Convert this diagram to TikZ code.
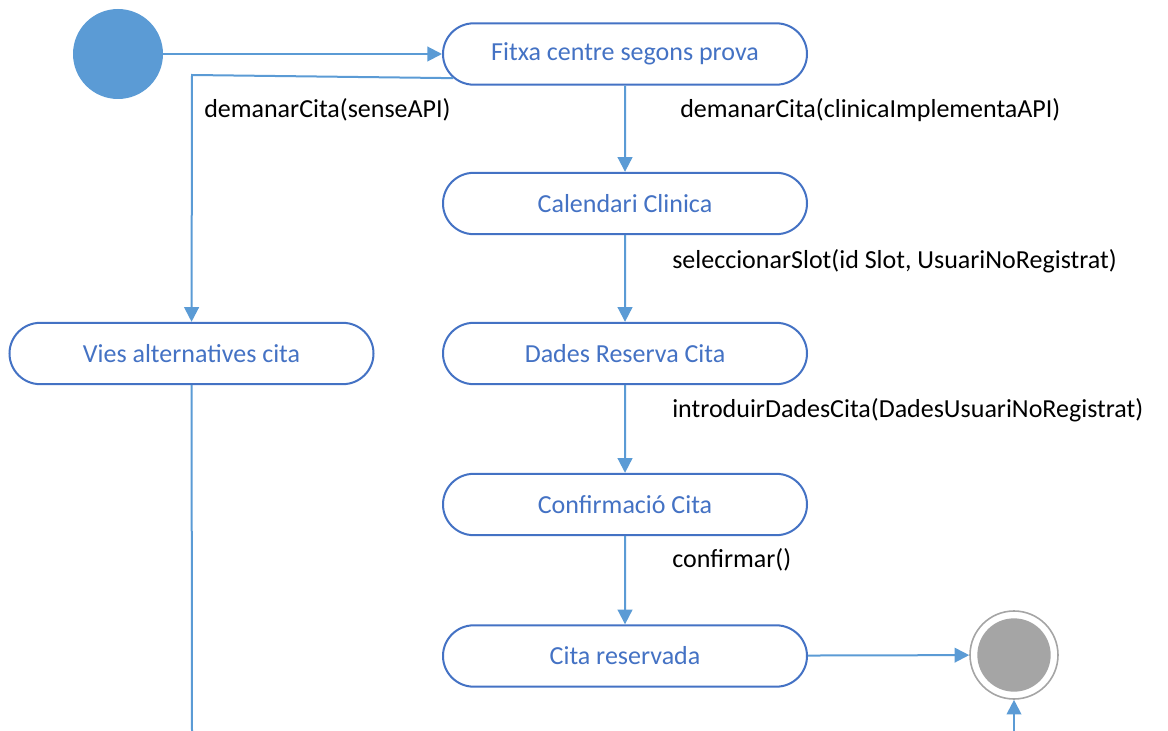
\documentclass[tikz,border=0pt]{standalone}
\usepackage{fontspec}
\setmainfont{Carlito}
\usetikzlibrary{shapes.misc,arrows.meta}
\definecolor{edgeblue}{HTML}{5B9BD5}
\definecolor{boxblue}{HTML}{4472C4}
\definecolor{endgray}{HTML}{A5A5A5}
\tikzset{
  state/.style={rounded rectangle, draw=boxblue, line width=1.5pt, fill=white,
    minimum width=273pt, minimum height=46pt, inner sep=0pt,
    text=boxblue, font=\fontsize{19.5}{22}\selectfont},
  flow/.style={draw=edgeblue, line width=1.5pt, -{Triangle[length=11pt,width=11pt]}},
  plain/.style={draw=edgeblue, line width=1.5pt},
  lbl/.style={anchor=west, inner sep=0pt, text=black, font=\fontsize{19.5}{22}\selectfont}
}
\begin{document}
\begin{tikzpicture}[x=0.75pt,y=-0.75pt]
\useasboundingbox (0,0) rectangle (1168,731);
\node[circle, fill=edgeblue, minimum size=67.5pt, inner sep=0pt] (start) at (118,54) {};
\node[state] (fitxa) at (625,54) {Fitxa centre segons prova};
\node[state] (cal) at (625,203.5) {Calendari Clinica};
\node[state] (vies) at (191.5,353.5) {Vies alternatives cita};
\node[state] (dades) at (625,353.5) {Dades Reserva Cita};
\node[state] (conf) at (625,504.5) {Confirmació Cita};
\node[state] (cita) at (625,656) {Cita reservada};
\node[circle, draw=endgray, line width=1.2pt, minimum size=66pt, inner sep=0pt] (endc) at (1014,655) {};
\node[circle, fill=endgray, minimum size=55pt, inner sep=0pt] at (endc) {};
\coordinate (bl) at (192,731);
\coordinate (br) at (1014,731);
\coordinate (corner) at (192,75);
\draw[flow] (start) -- (fitxa);
\draw[flow] (fitxa.188) -- (corner) -- (vies);
\draw[flow] (fitxa) -- (cal);
\draw[flow] (cal) -- (dades);
\draw[flow] (dades) -- (conf);
\draw[flow] (conf) -- (cita);
\draw[flow] (cita) -- (endc);
\draw[plain] (vies) -- (bl);
\draw[flow] (br) -- (endc);
\node[lbl] (l1) at (204,110) {demanarCita(senseAPI)};
\node[lbl] (l2) at (680,110) {demanarCita(clinicaImplementaAPI)};
\node[lbl] (l3) at (672,261) {seleccionarSlot(id Slot, UsuariNoRegistrat)};
\node[lbl] (l4) at (672,410) {introduirDadesCita(DadesUsuariNoRegistrat)};
\node[lbl] (l5) at (672,560) {confirmar()};
\end{tikzpicture}
\end{document}
